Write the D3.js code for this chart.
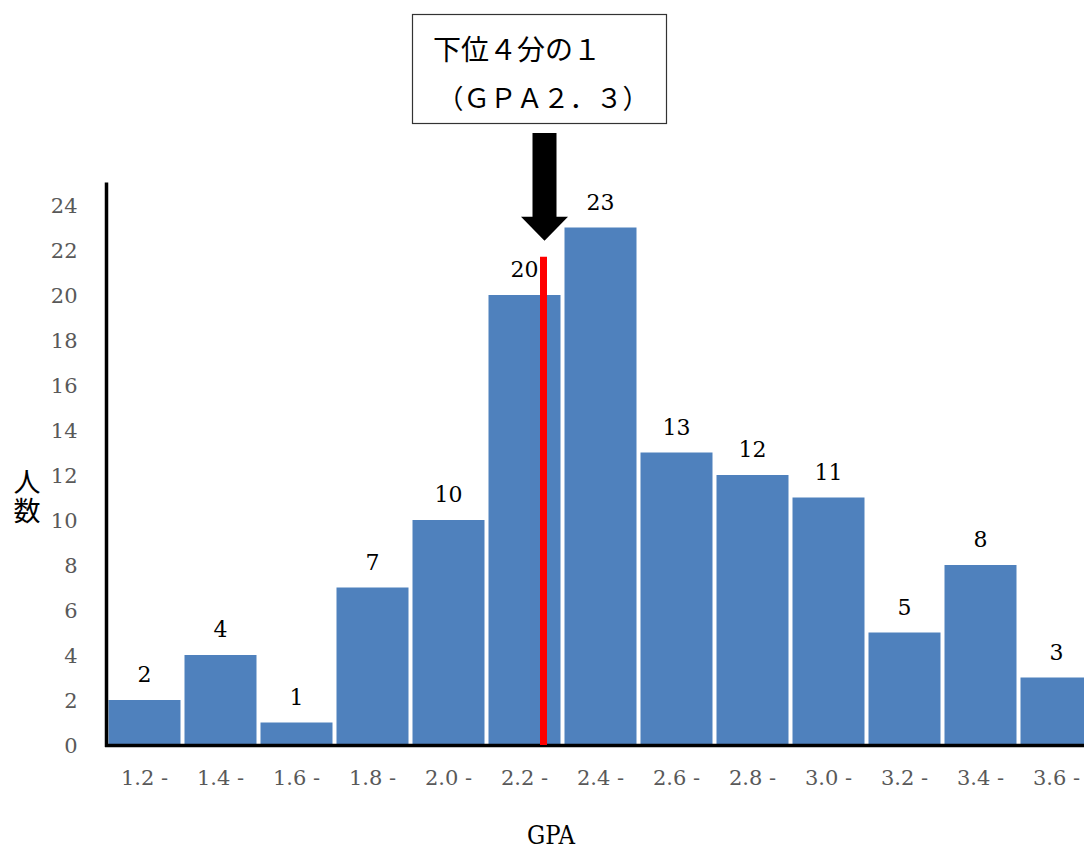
<!DOCTYPE html>
<html><head><meta charset="utf-8">
<script src="https://cdn.jsdelivr.net/npm/d3@7"></script>
<style>body{margin:0;background:#fff}svg{display:block}</style>
</head><body>
<svg id="chart" width="1084" height="850"></svg>
<script>
// ---- data ----
const categories = ["1.2 -","1.4 -","1.6 -","1.8 -","2.0 -","2.2 -","2.4 -","2.6 -","2.8 -","3.0 -","3.2 -","3.4 -","3.6 -"];
const binStarts = [1.2,1.4,1.6,1.8,2.0,2.2,2.4,2.6,2.8,3.0,3.2,3.4,3.6];
const counts = [2,4,1,7,10,20,23,13,12,11,5,8,3];
const yTicks = [0,2,4,6,8,10,12,14,16,18,20,22,24];
const markerGPA = [2.35];
const markerTop = [21.7];
const noteLines = ["下位４分の１","（ＧＰＡ２．３）"];
const yTitle = "人数";
const xTitle = "GPA";

const svg = d3.select("#chart");
const serif = "'DejaVu Serif', serif";
const cjk = "'Noto Sans CJK JP', sans-serif";

const x = d3.scaleBand().domain(categories).range([106.5, 1094.5]).paddingInner(4/76).paddingOuter(2/76);
const y = d3.scaleLinear().domain([0, 25]).range([745, 182.5]);
const gx = d3.scaleLinear().domain([1.2, 3.8]).range([106.5, 1094.5]);

// bars
svg.append("g").selectAll("rect").data(counts).join("rect")
  .attr("x", (d,i) => x(categories[i]))
  .attr("y", d => y(d))
  .attr("width", x.bandwidth())
  .attr("height", d => y(0) - y(d))
  .attr("fill", "#4F81BD");

// value labels
svg.append("g").selectAll("text").data(counts).join("text")
  .attr("x", (d,i) => x(categories[i]) + x.bandwidth()/2)
  .attr("y", d => y(d) - 18)
  .attr("text-anchor", "middle")
  .attr("font-family", serif).attr("font-size", 22).attr("fill", "#000")
  .text(d => d);

// y axis
const yAxis = svg.append("g").attr("transform", "translate(106.5,0)")
  .call(d3.axisLeft(y).tickValues(yTicks).tickSize(0).tickPadding(29).tickFormat(d3.format("d")));
yAxis.select(".domain").remove();
yAxis.selectAll("text").attr("font-family", serif).attr("font-size", 21).attr("fill", "#595959").attr("dy", "0.36em");

// x axis labels
const xAxis = svg.append("g").attr("transform", "translate(0,745)")
  .call(d3.axisBottom(x).tickSize(0).tickPadding(25));
xAxis.select(".domain").remove();
xAxis.selectAll("text").attr("font-family", serif).attr("font-size", 21).attr("fill", "#595959").attr("dy", "0.71em");

// axis lines
svg.append("line").attr("x1", 106.5).attr("x2", 106.5).attr("y1", y(25)).attr("y2", y(0) + 2)
  .attr("stroke", "#000").attr("stroke-width", 3.5);
svg.append("line").attr("x1", 105).attr("x2", 1094).attr("y1", y(0) + 0.5).attr("y2", y(0) + 0.5)
  .attr("stroke", "#000").attr("stroke-width", 3.5);

// red marker line
const mx = gx(markerGPA[0]);
svg.append("line").attr("x1", mx).attr("x2", mx).attr("y1", y(markerTop[0])).attr("y2", y(0))
  .attr("stroke", "#ff0000").attr("stroke-width", 7);

// arrow
const tipY = y(markerTop[0]) - 16;
const ax = mx + 1;
svg.append("path")
  .attr("d", `M${ax-12},133 L${ax+12},133 L${ax+12},${tipY-24} L${ax+23.5},${tipY-24} L${ax},${tipY} L${ax-23.5},${tipY-24} L${ax-12},${tipY-24} Z`)
  .attr("fill", "#000");

// annotation box
svg.append("rect").attr("x", 412.5).attr("y", 14.5).attr("width", 254).attr("height", 109)
  .attr("fill", "#fff").attr("stroke", "#333").attr("stroke-width", 1.2);
svg.append("text").attr("x", 433).attr("y", 60).attr("font-family", cjk).attr("font-size", 28).attr("fill", "#000").text(noteLines[0]);
svg.append("text").attr("x", 437).attr("y", 108).attr("font-family", cjk).attr("font-size", 26.5).attr("fill", "#000").text(noteLines[1]);

// y title (vertical)
svg.append("text")
  .attr("x", 27).attr("y", 468)
  .style("writing-mode", "vertical-rl").style("text-orientation", "upright")
  .attr("letter-spacing", 2)
  .attr("font-family", cjk).attr("font-size", 27).attr("fill", "#000")
  .text(yTitle);

// x title
svg.append("text").attr("x", 551).attr("y", 844).attr("text-anchor", "middle")
  .attr("font-family", serif).attr("font-size", 26)
  .attr("textLength", 48).attr("lengthAdjust", "spacingAndGlyphs").attr("fill", "#000").text(xTitle);
</script>
</body></html>
